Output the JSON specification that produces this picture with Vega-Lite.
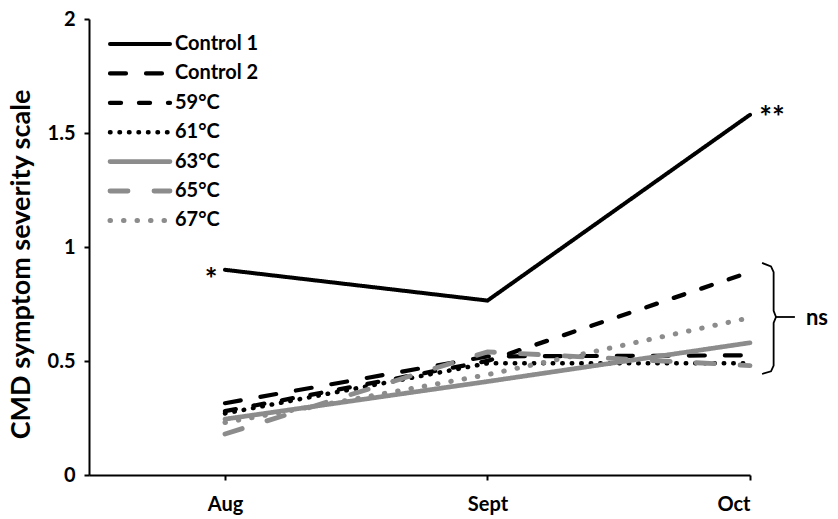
{
  "$schema": "https://vega.github.io/schema/vega-lite/v6.json",
  "width": 661,
  "height": 456,
  "autosize": {"type": "none"},
  "padding": {"left": 89, "top": 19, "right": 88, "bottom": 44},
  "background": "white",
  "config": {
    "view": {"stroke": null},
    "font": "Lato"
  },
  "datasets": {
    "series": [
      {"series": "Control 1", "t": 1, "value": 0.9},
      {"series": "Control 1", "t": 2, "value": 0.765},
      {"series": "Control 1", "t": 3, "value": 1.58},
      {"series": "Control 2", "t": 1, "value": 0.315},
      {"series": "Control 2", "t": 2, "value": 0.52},
      {"series": "Control 2", "t": 3, "value": 0.525},
      {"series": "59°C", "t": 1, "value": 0.28},
      {"series": "59°C", "t": 2, "value": 0.5},
      {"series": "59°C", "t": 3, "value": 0.89},
      {"series": "61°C", "t": 1, "value": 0.27},
      {"series": "61°C", "t": 2, "value": 0.49},
      {"series": "61°C", "t": 3, "value": 0.49},
      {"series": "63°C", "t": 1, "value": 0.245},
      {"series": "63°C", "t": 2, "value": 0.41},
      {"series": "63°C", "t": 3, "value": 0.58},
      {"series": "65°C", "t": 1, "value": 0.18},
      {"series": "65°C", "t": 2, "value": 0.54},
      {"series": "65°C", "t": 3, "value": 0.48},
      {"series": "67°C", "t": 1, "value": 0.23},
      {"series": "67°C", "t": 2, "value": 0.44},
      {"series": "67°C", "t": 3, "value": 0.69}
    ],
    "bracket": [
      {"i": 1, "t": 3.046, "value": 0.93},
      {"i": 2, "t": 3.08, "value": 0.915},
      {"i": 3, "t": 3.09, "value": 0.89},
      {"i": 4, "t": 3.09, "value": 0.72},
      {"i": 5, "t": 3.099, "value": 0.693},
      {"i": 6, "t": 3.09, "value": 0.667},
      {"i": 7, "t": 3.09, "value": 0.48},
      {"i": 8, "t": 3.08, "value": 0.455},
      {"i": 9, "t": 3.046, "value": 0.443}
    ],
    "tick": [
      {"i": 1, "t": 3.099, "value": 0.693},
      {"i": 2, "t": 3.171, "value": 0.693}
    ],
    "notes": [
      {"label": "*", "t": 0.947, "value": 0.85, "size": 30},
      {"label": "**", "t": 3.084, "value": 1.56, "size": 30},
      {"label": "ns", "t": 3.255, "value": 0.69, "size": 22}
    ]
  },
  "layer": [
    {
      "data": {"name": "series"},
      "mark": {"type": "line", "strokeCap": "round", "strokeJoin": "miter"},
      "encoding": {
        "x": {
          "field": "t",
          "type": "quantitative",
          "scale": {"domain": [0.482, 3], "nice": false, "zero": false},
          "axis": {
            "values": [1, 2, 3],
            "labelExpr": "datum.value == 1 ? 'Aug' : datum.value == 2 ? 'Sept' : 'Oct'",
            "title": null,
            "grid": false,
            "domainColor": "black",
            "domainWidth": 2,
            "tickColor": "black",
            "tickWidth": 2,
            "tickSize": 5,
            "labelFont": "Lato",
            "labelFontWeight": "bold",
            "labelFontSize": 20,
            "labelColor": "black",
            "labelPadding": 14
          }
        },
        "y": {
          "field": "value",
          "type": "quantitative",
          "scale": {"domain": [0, 2], "nice": false},
          "axis": {
            "values": [0, 0.5, 1, 1.5, 2],
            "format": "~g",
            "title": "CMD symptom severity scale",
            "grid": false,
            "domainColor": "black",
            "domainWidth": 2,
            "tickColor": "black",
            "tickWidth": 2,
            "tickSize": 5,
            "labelFont": "Lato",
            "labelFontWeight": "bold",
            "labelFontSize": 20,
            "labelColor": "black",
            "labelPadding": 9,
            "titleFont": "Lato",
            "titleFontWeight": "bold",
            "titleFontSize": 27,
            "titleColor": "black",
            "titlePadding": 12,
            "titleY": 245
          }
        },
        "color": {
          "field": "series",
          "type": "nominal",
          "scale": {
            "domain": ["Control 1", "Control 2", "59°C", "61°C", "63°C", "65°C", "67°C"],
            "range": ["#000000", "#000000", "#000000", "#000000", "#8c8c8c", "#8c8c8c", "#8c8c8c"]
          },
          "legend": {
            "title": null,
            "orient": "none",
            "legendX": 41,
            "legendY": 15,
            "symbolType": "M-30,0H30",
            "symbolSize": 4,
            "labelFont": "Lato",
            "labelFontWeight": "bold",
            "labelFontSize": 20,
            "labelColor": "black",
            "labelOffset": 25,
            "rowPadding": 9.4,
            "padding": 0,
            "encode": {"symbols": {"update": {"strokeCap": {"value": "round"}}}}
          }
        },
        "strokeDash": {
          "field": "series",
          "type": "nominal",
          "scale": {
            "domain": ["Control 1", "Control 2", "59°C", "61°C", "63°C", "65°C", "67°C"],
            "range": [[1, 0], [16, 20], [11, 18], [0.5, 9], [1, 0], [18, 26], [0.5, 13]]
          },
          "legend": {"title": null}
        },
        "strokeWidth": {
          "field": "series",
          "type": "nominal",
          "scale": {
            "domain": ["Control 1", "Control 2", "59°C", "61°C", "63°C", "65°C", "67°C"],
            "range": [4, 5, 3.5, 3.5, 4.5, 6, 5.5]
          },
          "legend": {"title": null}
        }
      }
    },
    {
      "data": {"name": "bracket"},
      "mark": {"type": "line", "color": "black", "strokeWidth": 1.8},
      "encoding": {
        "x": {"field": "t", "type": "quantitative"},
        "y": {"field": "value", "type": "quantitative"},
        "order": {"field": "i"}
      }
    },
    {
      "data": {"name": "tick"},
      "mark": {"type": "line", "color": "black", "strokeWidth": 1.8},
      "encoding": {
        "x": {"field": "t", "type": "quantitative"},
        "y": {"field": "value", "type": "quantitative"},
        "order": {"field": "i"}
      }
    },
    {
      "data": {"name": "notes"},
      "mark": {"type": "text", "font": "Lato", "fontWeight": "bold", "color": "black", "baseline": "middle", "align": "center"},
      "encoding": {
        "x": {"field": "t", "type": "quantitative"},
        "y": {"field": "value", "type": "quantitative"},
        "text": {"field": "label"},
        "size": {"field": "size", "type": "quantitative", "scale": null}
      }
    }
  ]
}
